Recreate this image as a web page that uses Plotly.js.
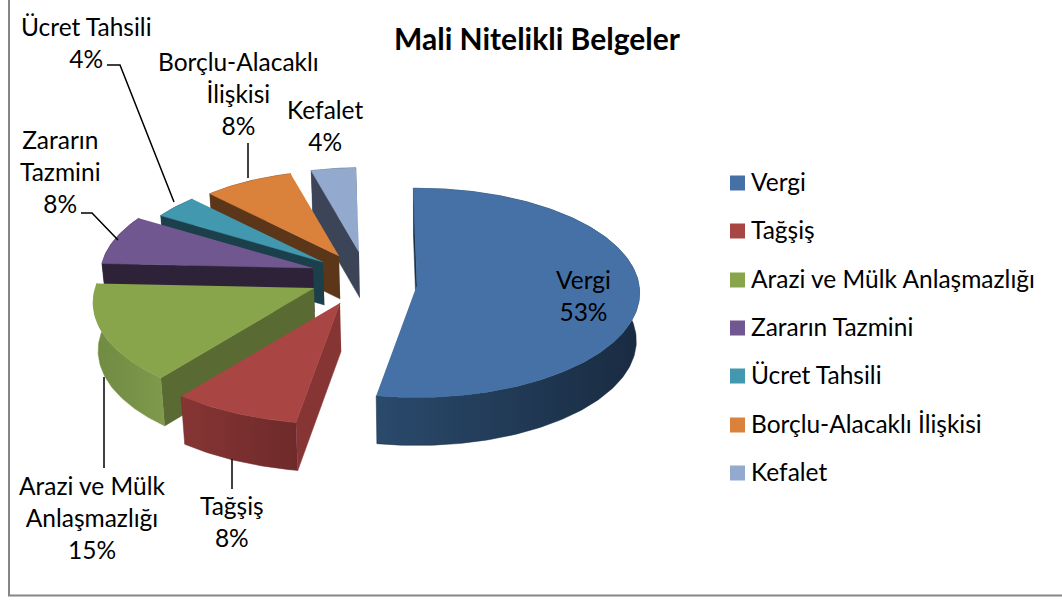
<!DOCTYPE html>
<html><head><meta charset="utf-8">
<script src="https://cdn.plot.ly/plotly-3.0.1.min.js"></script>
<style>html,body{margin:0;padding:0;background:#fff}#c{width:1062px;height:600px}</style></head>
<body><div id="c"></div>
<script>
const chartTitle = "Mali Nitelikli Belgeler";
const categories = ["Vergi","Tağşiş","Arazi ve Mülk Anlaşmazlığı","Zararın Tazmini","Ücret Tahsili","Borçlu-Alacaklı İlişkisi","Kefalet"];
const values = [53,8,15,8,4,8,4];
const labelNames = ["Vergi","Tağşiş","Arazi ve Mülk<br>Anlaşmazlığı","Zararın<br>Tazmini","Ücret Tahsili","Borçlu-Alacaklı<br>İlişkisi","Kefalet"];
const topColors = ["#4571A6","#A94543","#89A54C","#71578F","#4198AF","#DA813C","#93A9CE"];
const cutColors = ["#1c3048","#863534","#5a6a33","#2e2238","#1b3f4b","#5c3618","#3c4558"];
const wallFrom = ["#2a4a6c","#863534","#6f8a42","#2e2238","#1b3f4b","#5c3618","#3c4558"];
const wallTo   = ["#192b41","#6e2a2a","#7f9a4c","#2e2238","#1b3f4b","#5c3618","#3c4558"];

// explosion of each slice in the tilted 3D view (apex in plot units, perspective per slice)
const explodeX = [417,340,314,313,323,339,359];
const explodeY = [285,303,288,268,262,256,252];
const sliceScale = [1,1.08,0.985,0.955,0.89,0.88,0.87];
const slicePersp = [0.075,0.075,0.14,0.075,0.075,0.075,0.075];
const sliceDepth = [48,48,48,44,43,43,46];
const labelX = [583,232,92,60,86,238,325];
const labelY = [295,521,517,171,42,93,125];
const legendY = [183,231,280,328,376,425,473];

const R=222, Ry=104, rot=-1, vanishX=420, shrink=0.015;
const rad=d=>d*Math.PI/180;
function proj(i,a){
  const X=Math.sin(rad(a)), Y=-Math.cos(rad(a)), s=sliceScale[i]/(1-slicePersp[i]*Y);
  return [explodeX[i]+R*X*s, explodeY[i]+Ry*Y*s];
}
const down=(p,i)=>[p[0]+(vanishX-p[0])*shrink, p[1]+sliceDepth[i]];
function poly(points,color,extra){
  return Object.assign({type:"scatter",mode:"lines",x:points.map(p=>p[0]),y:points.map(p=>p[1]),
    fill:"toself",fillcolor:color,line:{color:color,width:0.5},hoverinfo:"skip",showlegend:false},extra||{});
}
const total=values.reduce((a,b)=>a+b,0);
let acc=rot; const spans=values.map(v=>{const s=[acc,acc+v/total*360];acc=s[1];return s;});
const cross=(o,d,p)=>d[0]*(p[1]-o[1])-d[1]*(p[0]-o[0]);
const traces=[];
[6,5,4,3,2,1,0].forEach(i=>{
  const [a0,a1]=spans[i], apex=[explodeX[i],explodeY[i]];
  const arc=[]; for(let a=a0;a<a1;a+=1)arc.push(proj(i,a)); arc.push(proj(i,a1));
  const mid=proj(i,(a0+a1)/2);
  [arc[0],arc[arc.length-1]].forEach(c=>{
    const d=[c[0]-apex[0],c[1]-apex[1]];
    const visible=cross(apex,d,mid)*cross(apex,d,down(apex,i))<0;
    if(visible) traces.push(poly([apex,c,down(c,i),down(apex,i)],cutColors[i]));
  });
  traces.push(poly(arc.concat(arc.map(p=>down(p,i)).reverse()),wallTo[i],
    {fillgradient:{type:"horizontal",colorscale:[[0,wallFrom[i]],[1,wallTo[i]]]}}));
  traces.push(poly([apex].concat(arc),topColors[i],{name:categories[i]}));
});
categories.forEach((c,i)=>{
  traces.push({type:"scatter",mode:"markers",x:[737.5],y:[legendY[i]],name:c,hoverinfo:"skip",showlegend:false,
    marker:{symbol:"square",size:15,color:topColors[i]}});
  traces.push({type:"scatter",mode:"text",x:[751],y:[legendY[i]+2],text:[c],textposition:"middle right",
    name:c,hoverinfo:"skip",showlegend:false,textfont:{family:"Lato",size:24.5,color:"#000"}});
});

const ann=categories.map((c,i)=>({x:labelX[i],y:labelY[i],xref:"x",yref:"y",showarrow:false,align:"center",
  xanchor:"center",yanchor:"middle",text:labelNames[i]+"<br>"+Math.round(values[i]/total*100)+"%",
  font:{family:"Lato",size:24.5,color:"#000"}}));
ann.push({x:537,y:38,xref:"x",yref:"y",showarrow:false,text:"<b>"+chartTitle+"</b>",
  font:{family:"Lato",size:30,color:"#000"}});

const lead=(path)=>({type:"path",path:path,layer:"above",line:{color:"#000",width:1.5},xref:"x",yref:"y"});
const frame={type:"path",path:"M9,0 L9,595.5 L1062,595.5",line:{color:"#868686",width:2},xref:"x",yref:"y"};
const shapes=[frame,
  lead("M107,65 L120,65 L174,202"),
  lead("M248,143 L248,178"),
  lead("M81,213 L92,213 L118,240"),
  lead("M104,377 L104,468"),
  lead("M232,459 L232,489")];

Plotly.newPlot("c",traces,{
  width:1062,height:600,margin:{l:0,r:0,t:0,b:0},paper_bgcolor:"#fff",plot_bgcolor:"#fff",showlegend:false,
  xaxis:{range:[0,1062],visible:false,fixedrange:true},
  yaxis:{range:[600,0],visible:false,fixedrange:true},
  annotations:ann,shapes:shapes
},{displayModeBar:false,staticPlot:true});
</script></body></html>
